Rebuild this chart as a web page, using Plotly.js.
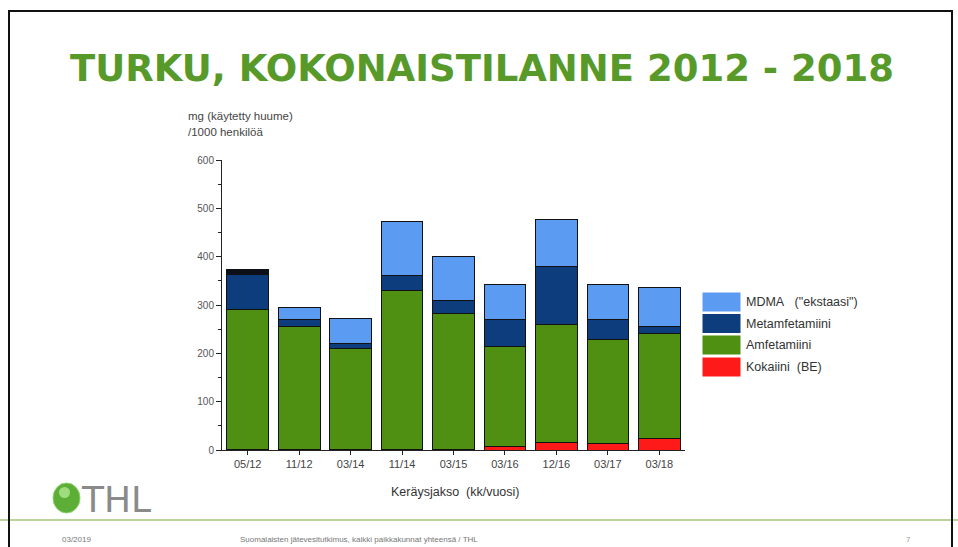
<!DOCTYPE html>
<html>
<head>
<meta charset="utf-8">
<script src="https://cdn.plot.ly/plotly-3.0.1.min.js"></script>
<style>
  html, body { margin: 0; padding: 0; background: #ffffff; }
  #wrap { position: relative; width: 958px; height: 547px; overflow: hidden; }
  #frame { position: absolute; left: 8px; top: 10px; width: 945px; height: 560px;
           border: 2px solid #111; pointer-events: none; box-sizing: border-box; }
  #chart { position: absolute; left: 0; top: 0; width: 958px; height: 547px; }
</style>
</head>
<body>
<div id="wrap">
  <div id="chart"></div>
  <div id="frame"></div>
</div>
<script>
// ---- data ----
const categories = ["05/12", "11/12", "03/14", "11/14", "03/15", "03/16", "12/16", "03/17", "03/18"];
const kokaiini       = [1, 2, 2, 2, 1, 7, 15, 14, 23];
const amfetamiini    = [290, 253, 208, 329, 282, 208, 244, 215, 218];
const metamfetamiini = [72, 15, 11, 31, 27, 55, 120, 41, 14];
const mdma           = [0, 24, 51, 110, 91, 73, 97, 73, 81];
const muu            = [11, 0, 0, 0, 0, 0, 0, 0, 0];
const seriesNames = ["Kokaiini\u00a0\u00a0(BE)", "Amfetamiini", "Metamfetamiini", "MDMA\u00a0\u00a0\u00a0(\"ekstaasi\")"];
const yTickVals = [0, 100, 200, 300, 400, 500, 600];
const titleText = "TURKU, KOKONAISTILANNE 2012 - 2018";
const yTitleLines = ["mg (käytetty huume)", "/1000 henkilöä"];
const xTitleText = "Keräysjakso\u00a0\u00a0(kk/vuosi)";
const footerDate = "03/2019";
const footerText = "Suomalaisten jätevesitutkimus, kaikki paikkakunnat yhteensä / THL";

// ---- styles ----
const colors = ["#ff1a1a", "#4f8f12", "#0d3d7c", "#5b9cf2"];
const seriesValues = [kokaiini, amfetamiini, metamfetamiini, mdma];

// plot area in pixels
const L = 222, R = 685, T = 160, B = 450;
const W = 958, H = 547;
const px = x => (x - L) / (R - L);
const py = y => (B - y) / (B - T);

const traces = seriesValues.map((vals, i) => ({
  type: "bar", x: categories, y: vals, name: seriesNames[i],
  marker: { color: colors[i], line: { color: "#111", width: 1 } },
  showlegend: false, hoverinfo: "x+y+name"
}));
traces.push({
  type: "bar", x: categories, y: muu, name: "muu",
  marker: { color: "#0a0f1a", line: { color: "#111", width: 1 } },
  showlegend: false
});

const shapes = [];
const annotations = [];

// custom legend (top item is last series)
const legTops = [292, 313.5, 335, 357];
const order = [3, 2, 1, 0];
order.forEach((si, k) => {
  const top = legTops[k];
  shapes.push({ type: "rect", xref: "paper", yref: "paper",
    x0: px(702), x1: px(741), y0: py(top + 20), y1: py(top),
    fillcolor: colors[si], line: { color: "#ffffff", width: 1 } });
  annotations.push({ xref: "paper", yref: "paper", x: px(744), y: py(top + 10),
    xanchor: "left", yanchor: "middle", showarrow: false, text: seriesNames[si],
    font: { family: "Liberation Sans, Arial, sans-serif", size: 12.5, color: "#333" } });
});

// y title (two lines, horizontal)
yTitleLines.forEach((t, i) => {
  annotations.push({ xref: "paper", yref: "paper", x: px(186), y: py(116 + i * 16),
    xanchor: "left", yanchor: "middle", showarrow: false, text: t,
    font: { family: "Liberation Sans, Arial, sans-serif", size: 11.5, color: "#444" } });
});

// footer line
shapes.push({ type: "line", xref: "paper", yref: "paper",
  x0: px(0), x1: px(958), y0: py(520), y1: py(520),
  line: { color: "#b9d39a", width: 2 } });
// logo circle
shapes.push({ type: "circle", xref: "paper", yref: "paper",
  x0: px(53), x1: px(80), y0: py(513), y1: py(483),
  fillcolor: "#5cae36", line: { color: "#8cd06a", width: 1 } });
shapes.push({ type: "circle", xref: "paper", yref: "paper",
  x0: px(59), x1: px(70), y0: py(498), y1: py(487),
  fillcolor: "#9fdc7f", line: { width: 0 } });
annotations.push({ xref: "paper", yref: "paper", x: px(79), y: py(499),
  xanchor: "left", yanchor: "middle", showarrow: false, text: "THL",
  font: { family: "DejaVu Sans, Liberation Sans, sans-serif", size: 36, color: "#8a8a8a" } });
annotations.push({ xref: "paper", yref: "paper", x: px(60), y: py(539),
  xanchor: "left", yanchor: "middle", showarrow: false, text: footerDate,
  font: { family: "Liberation Sans, Arial, sans-serif", size: 8, color: "#777" } });
annotations.push({ xref: "paper", yref: "paper", x: px(238), y: py(539),
  xanchor: "left", yanchor: "middle", showarrow: false, text: footerText,
  font: { family: "Liberation Sans, Arial, sans-serif", size: 8, color: "#777" } });
annotations.push({ xref: "paper", yref: "paper", x: px(908), y: py(539),
  xanchor: "center", yanchor: "middle", showarrow: false, text: "7",
  font: { family: "Liberation Sans, Arial, sans-serif", size: 8, color: "#999" } });
// x axis title
annotations.push({ xref: "paper", yref: "paper", x: px(455), y: py(492),
  xanchor: "center", yanchor: "middle", showarrow: false, text: xTitleText,
  font: { family: "Liberation Sans, Arial, sans-serif", size: 12.5, color: "#333" } });

const layout = {
  width: W, height: H,
  margin: { l: L, r: W - R, t: T, b: H - B, pad: 0 },
  paper_bgcolor: "rgba(0,0,0,0)", plot_bgcolor: "rgba(0,0,0,0)",
  barmode: "stack", bargap: 0.19,
  showlegend: false,
  title: { text: "<b>" + titleText + "</b>", x: 482 / W, xanchor: "center",
           y: 1 - 68 / H, yanchor: "middle", xref: "container", yref: "container",
           font: { family: "DejaVu Sans, Liberation Sans, sans-serif", size: 37, color: "#579a29" } },
  xaxis: {
    type: "category", categoryorder: "array", categoryarray: categories,
    showline: true, linecolor: "#222", linewidth: 1,
    ticks: "outside", ticklen: 4, tickcolor: "#222",
    showgrid: false, zeroline: false, automargin: false,
    tickfont: { family: "Liberation Sans, Arial, sans-serif", size: 11, color: "#444" }
  },
  yaxis: {
    range: [0, 600], tickvals: yTickVals, ticktext: yTickVals.map(String),
    showline: true, linecolor: "#222", linewidth: 1,
    ticks: "outside", ticklen: 5, tickcolor: "#222",
    minor: { dtick: 50, tick0: 0, ticks: "outside", ticklen: 3, tickcolor: "#222", showgrid: false },
    showgrid: false, zeroline: false, automargin: false,
    tickfont: { family: "Liberation Sans, Arial, sans-serif", size: 10, color: "#555" }
  },
  shapes: shapes, annotations: annotations
};

Plotly.newPlot("chart", traces, layout, { staticPlot: true, displayModeBar: false });
</script>
</body>
</html>
